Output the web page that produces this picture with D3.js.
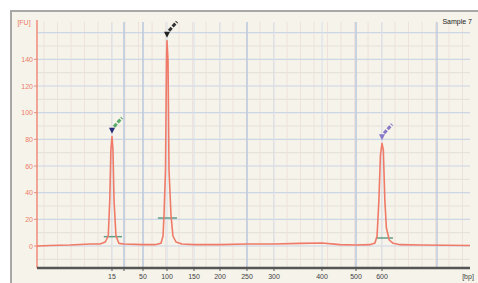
<!DOCTYPE html>
<html>
<head>
<meta charset="utf-8">
<script src="https://cdn.jsdelivr.net/npm/d3@7"></script>
<style>
body { margin: 0; background: #fff; }
svg { display: block; }
text { font-family: "Liberation Sans", Arial, sans-serif; }
</style>
</head>
<body>
<div id="chart"></div>
<script>
// trace of the electropherogram: size in bp, signal in FU
var traceBp = [5, 6.7, 9.4, 12.1, 13.4, 14.1, 14.5, 14.7, 14.85, 15, 15.8, 16.7, 18.3, 20.8, 25,
    50, 75, 87.5, 91.7, 93.75, 96.9, 99, 100, 101.9, 103.7, 107.4, 111, 116.7, 127.8,
    150, 200, 250, 300, 354, 400, 453, 500, 554, 573, 581, 588, 594, 600, 606, 613, 620, 633, 651, 682, 773, 1000]
var traceFu = [0, 0.4, 0.7, 1.5, 1.5, 3, 7.5, 34, 72, 82, 72, 34, 7.5, 2, 1.5,
    1, 1, 2, 7.5, 23, 57, 139, 154, 139, 57, 23, 7.5, 3, 1.5,
    1, 1, 1.5, 1.5, 2, 2.2, 1, 0.7, 1, 2.2, 7.5, 34, 68, 77, 72, 34, 13.5, 4.5, 2, 1, 0.7, 0.4]

// axis ticks
var tickBp = [15, 25, 50, 100, 150, 200, 250, 300, 400, 500, 600]
var tickLabels = ["15", "", "50", "100", "150", "200", "250", "300", "400", "500", "600"]
var yTicks = [0, 20, 40, 60, 80, 100, 120, 140]

// called peaks
var peakBp = [15, 100, 600]
var peakFu = [82, 154, 77]
var peakBaseFu = [7, 21, 6]
var peakFromBp = [13.9, 81, 577]
var peakToBp = [23.3, 118.5, 650]
var sampleName = "Sample 7"

var width = 478
var height = 283
// note: "top" is taken by window.top, so use other names
var padL = 37, padR = 470, padT = 22, padB = 268

var svg = d3.select("#chart")
    .append("svg")
    .attr("width", width)
    .attr("height", height)

// frame
svg.append("rect").attr("x", 11).attr("y", 11).attr("width", 470).attr("height", 280)
    .attr("fill", "#f5f3ea").attr("stroke", "#a8a8a8").attr("stroke-width", 2)

// size axis is not linear (ladder calibrated), so piecewise
var x = d3.scaleLinear()
    .domain([5, 15, 25, 50, 100, 150, 200, 250, 300, 400, 500, 600, 1000])
    .range([padL, 112, 124, 143, 167, 194, 220, 247, 274, 322, 356, 382, padR])

var y = d3.scaleLinear()
    .domain([-16.5, 168])
    .range([padB, padT])

// grid
var grid = svg.append("g")
var minorX = d3.range(padL + 7, padR, 13.5)
grid.selectAll(".vmin").data(minorX).enter().append("line")
    .attr("x1", d => d).attr("x2", d => d).attr("y1", padT).attr("y2", padB)
    .attr("stroke", "#efe2da").attr("stroke-width", 1)
grid.selectAll(".hmin").data(d3.range(-10, 170, 10)).enter().append("line")
    .attr("x1", padL).attr("x2", padR).attr("y1", d => y(d)).attr("y2", d => y(d))
    .attr("stroke", d => d % 20 == 0 ? "#cdd6e4" : "#e8e2dc").attr("stroke-width", 1.2)
var majorBp = [25, 50, 250, 500, 850]
grid.selectAll(".vtick").data(tickBp).enter().append("line")
    .attr("x1", d => x(d)).attr("x2", d => x(d)).attr("y1", padT).attr("y2", padB)
    .attr("stroke", "#d8dfea").attr("stroke-width", 1)
grid.selectAll(".vmaj").data(majorBp).enter().append("line")
    .attr("x1", d => x(d)).attr("x2", d => x(d)).attr("y1", padT).attr("y2", padB)
    .attr("stroke", "#b8c6dc").attr("stroke-width", 1.3)

// y axis (red)
var yAxis = svg.append("g")
yAxis.append("line").attr("x1", padL).attr("x2", padL).attr("y1", padT - 2).attr("y2", padB)
    .attr("stroke", "#f08a78").attr("stroke-width", 1.5)
yAxis.selectAll(".yt").data(yTicks).enter().append("line")
    .attr("x1", padL - 3).attr("x2", padL).attr("y1", d => y(d)).attr("y2", d => y(d))
    .attr("stroke", "#f08a78")
yAxis.selectAll(".yl").data(yTicks).enter().append("text")
    .attr("x", padL - 4).attr("y", d => y(d) + 2.5)
    .attr("text-anchor", "end").attr("font-size", 7).attr("fill", "#f07a68")
    .text(d => d)
yAxis.append("text").attr("x", 24).attr("y", padT + 2.5).attr("text-anchor", "middle")
    .attr("font-size", 7).attr("fill", "#f07a68").text("[FU]")

// x axis
var xAxis = svg.append("g")
xAxis.append("line").attr("x1", padL).attr("x2", padR).attr("y1", padB).attr("y2", padB)
    .attr("stroke", "#555").attr("stroke-width", 2.5)
xAxis.selectAll(".xt").data(tickBp).enter().append("line")
    .attr("x1", d => x(d)).attr("x2", d => x(d)).attr("y1", padB).attr("y2", padB + 3)
    .attr("stroke", "#555")
xAxis.selectAll(".xl").data(tickBp).enter().append("text")
    .attr("x", d => x(d)).attr("y", padB + 11)
    .attr("text-anchor", "middle").attr("font-size", 7).attr("fill", "#444")
    .text((d, i) => tickLabels[i])
xAxis.append("text").attr("x", padR - 2).attr("y", padB + 11).attr("text-anchor", "middle")
    .attr("font-size", 7).attr("fill", "#444").text("[bp]")

// peak baselines
svg.selectAll(".pb").data(peakBp).enter().append("line")
    .attr("x1", (d, i) => x(peakFromBp[i])).attr("x2", (d, i) => x(peakToBp[i]))
    .attr("y1", (d, i) => y(peakBaseFu[i])).attr("y2", (d, i) => y(peakBaseFu[i]))
    .attr("stroke", "#3e8a70").attr("stroke-width", 1.5).attr("opacity", 0.8)

// trace
var line = d3.line()
    .x(d => x(d[0]))
    .y(d => y(d[1]))
svg.append("path")
    .datum(d3.zip(traceBp, traceFu))
    .attr("d", line)
    .attr("fill", "none")
    .attr("stroke", "#f07a68")
    .attr("stroke-width", 1.6)
    .attr("stroke-linejoin", "round")

// peak markers
var triColors = ["#2a2a7a", "#222", "#8878c8"]
var dashColors = ["#5aaa6a", "#333", "#8878c8"]
peakBp.forEach(function (b, i) {
    var px = x(b), py = y(peakFu[i])
    svg.append("line").attr("x1", px + 2).attr("y1", py - 10).attr("x2", px + 10).attr("y2", py - 19)
        .attr("stroke", dashColors[i]).attr("stroke-width", 3).attr("stroke-dasharray", "4,1.5")
    svg.append("path")
        .attr("d", "M" + (px - 3) + "," + (py - 9) + "L" + (px + 3) + "," + (py - 9) + "L" + px + "," + (py - 3) + "Z")
        .attr("fill", triColors[i])
})

svg.append("text").attr("x", 472).attr("y", 24).attr("text-anchor", "end")
    .attr("font-size", 7).attr("fill", "#222").text(sampleName)
</script>
</body>
</html>
